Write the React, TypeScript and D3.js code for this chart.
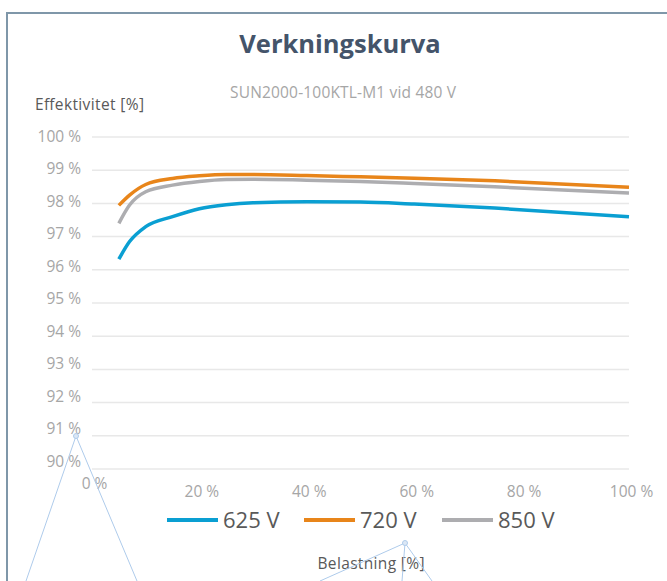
import { useEffect, useRef } from 'react';
import * as d3 from 'd3';

// load in percent of rated power
const loads = [5, 7, 10, 15, 20, 25, 30, 40, 50, 60, 75, 100];
const eff625 = [96.32, 96.85, 97.3, 97.6, 97.84, 97.96, 98.02, 98.05, 98.04, 97.98, 97.86, 97.6];
const eff720 = [97.94, 98.25, 98.57, 98.75, 98.83, 98.87, 98.87, 98.84, 98.8, 98.76, 98.68, 98.49];
const eff850 = [97.4, 97.95, 98.35, 98.55, 98.66, 98.72, 98.73, 98.7, 98.66, 98.6, 98.5, 98.31];

const seriesNames = ['625 V', '720 V', '850 V'];
const seriesColors = ['#0a9fd2', '#e8851a', '#adadb0'];

const yTicks = [90, 91, 92, 93, 94, 95, 96, 97, 98, 99, 100];
const xTicks = [0, 20, 40, 60, 80, 100];

export default function App() {
    const ref = useRef<SVGSVGElement>(null);

    useEffect(() => {
        const svg = d3.select(ref.current);
        svg.selectAll('*').remove();
        const font = '"Open Sans", "Noto Sans", sans-serif';

        const x = d3.scaleLinear().domain([0, 100]).range([92, 629]);
        const y = d3.scaleLinear().domain([90, 100]).range([469, 137]);
        // tick labels in the source sit on a slightly tighter spacing than the grid
        const yLab = d3.scaleLinear().domain([90, 100]).range([461, 136]);

        // frame
        svg.append('path')
            .attr('d', 'M7,581V13H667')
            .attr('fill', 'none')
            .attr('stroke', '#7f97a9')
            .attr('stroke-width', 2);

        svg.append('text')
            .attr('x', 340).attr('y', 53)
            .attr('text-anchor', 'middle')
            .attr('font-family', font).attr('font-weight', 700)
            .attr('font-size', 25.5).attr('fill', '#44546a')
            .text('Verkningskurva');

        svg.append('text')
            .attr('x', 343).attr('y', 98)
            .attr('text-anchor', 'middle')
            .attr('font-family', font).attr('font-size', 15.5)
            .attr('fill', '#a6a6a6')
            .attr('textLength', 226)
            .text('SUN2000-100KTL-M1 vid 480 V');

        svg.append('text')
            .attr('x', 35).attr('y', 110)
            .attr('font-family', font).attr('font-size', 15.5)
            .attr('fill', '#595959')
            .attr('textLength', 109)
            .text('Effektivitet [%]');

        const grid = svg.append('g');
        grid.selectAll('line').data(yTicks).enter().append('line')
            .attr('x1', x(0)).attr('x2', x(100))
            .attr('y1', d => y(d)).attr('y2', d => y(d))
            .attr('stroke', '#e8e8e8').attr('stroke-width', 1.5);

        svg.append('g').selectAll('text').data(yTicks).enter().append('text')
            .attr('x', 81).attr('y', d => yLab(d))
            .attr('dy', '0.36em')
            .attr('text-anchor', 'end')
            .attr('font-family', font).attr('font-size', 15.5)
            .attr('fill', '#a6a6a6')
            .text(d => `${d} %`);

        svg.append('g').selectAll('text').data(xTicks).enter().append('text')
            .attr('x', d => x(d) + 2.5)
            .attr('y', (d, i) => (i === 0 ? 483 : 491))
            .attr('dy', '0.36em')
            .attr('text-anchor', 'middle')
            .attr('font-family', font).attr('font-size', 15.5)
            .attr('fill', '#a6a6a6')
            .text(d => `${d} %`);

        const all = [eff625, eff720, eff850];
        const line = d3.line<number>()
            .x((d, i) => x(loads[i]))
            .y(d => y(d))
            .curve(d3.curveMonotoneX);

        all.forEach((s, k) => {
            svg.append('path')
                .datum(s)
                .attr('d', line)
                .attr('fill', 'none')
                .attr('stroke', seriesColors[k])
                .attr('stroke-width', 3.5)
                .attr('stroke-linejoin', 'round');
        });

        // legend
        const legX = [167, 304, 442];
        const leg = svg.append('g');
        seriesNames.forEach((n, k) => {
            leg.append('line')
                .attr('x1', legX[k]).attr('x2', legX[k] + 51)
                .attr('y1', 520).attr('y2', 520)
                .attr('stroke', seriesColors[k]).attr('stroke-width', 4);
            leg.append('text')
                .attr('x', legX[k] + 56).attr('y', 520)
                .attr('dy', '0.36em')
                .attr('font-family', font).attr('font-size', 22)
                .attr('fill', '#595959')
                .text(n);
        });

        svg.append('text')
            .attr('x', 371).attr('y', 563)
            .attr('dy', '0.36em')
            .attr('text-anchor', 'middle')
            .attr('font-family', font).attr('font-size', 15.5)
            .attr('fill', '#595959')
            .attr('textLength', 107)
            .text('Belastning [%]');

        // faint selection handles visible in the source screenshot
        const sel = svg.append('g').attr('stroke', '#aecbeb').attr('fill', 'none').attr('stroke-width', 1);
        sel.append('path').attr('d', 'M26,581L76,436L137,581');
        sel.append('circle').attr('cx', 76).attr('cy', 436).attr('r', 2.5).attr('fill', '#dbe7f5');
        sel.append('path').attr('d', 'M320,581L405,543L402,581M405,543L432,581');
        sel.append('circle').attr('cx', 405).attr('cy', 543).attr('r', 2.5).attr('fill', '#dbe7f5');
    }, []);

    return (
        <svg
            ref={ref}
            width={667}
            height={581}
            style={{ position: 'absolute', left: 0, top: 0, display: 'block', background: '#fff' }}
        />
    );
}
